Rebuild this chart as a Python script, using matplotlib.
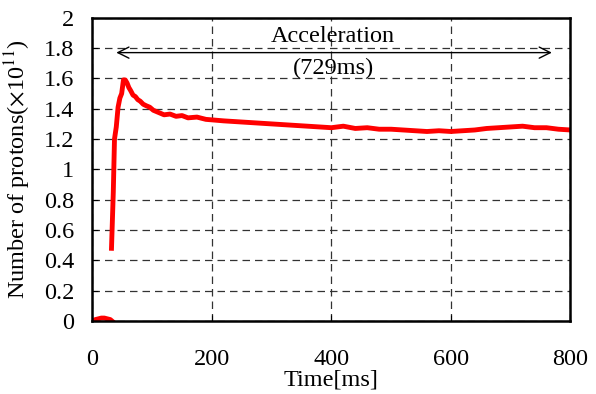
import matplotlib.pyplot as plt

plt.rcParams["font.family"] = ["Liberation Serif", "DejaVu Serif"]
plt.rcParams["mathtext.fontset"] = "stix"

# baseline before injection (ms, x1e11)
pre_t = [0, 5, 10, 15, 20, 25, 30, 33]
pre_n = [0.0, 0.01, 0.015, 0.02, 0.02, 0.015, 0.01, 0.0]

# beam intensity during acceleration
time_ms = [32, 35, 37, 40, 43, 46, 49, 52, 55, 58, 61, 64, 68, 72, 76, 80, 85, 90,
           96, 102, 108, 114, 120, 130, 140, 150, 160, 175, 190, 205, 220, 240,
           260, 280, 300, 320, 340, 360, 380, 400, 420, 440, 460, 480, 500, 520,
           540, 560, 580, 600, 620, 640, 660, 680, 700, 720, 740, 760, 780, 800]
protons = [0.48, 0.85, 1.2, 1.28, 1.41, 1.47, 1.5, 1.59, 1.59, 1.57, 1.54, 1.52, 1.49,
           1.48, 1.46, 1.45, 1.43, 1.42, 1.41, 1.39, 1.38, 1.37, 1.36, 1.365, 1.35,
           1.355, 1.34, 1.345, 1.33, 1.325, 1.32, 1.315, 1.31, 1.305, 1.30, 1.295, 1.29,
           1.285, 1.28, 1.275, 1.285, 1.27, 1.275, 1.265, 1.265, 1.26, 1.255, 1.25, 1.255,
           1.25, 1.255, 1.26, 1.27, 1.275, 1.28, 1.285, 1.275, 1.275, 1.265, 1.26]

accel_start, accel_end = 40, 769
accel_y = 1.77

fig, ax = plt.subplots(figsize=(5.96, 3.94), dpi=100)
fig.subplots_adjust(left=0.155, right=0.957, top=0.955, bottom=0.185)

ax.plot(pre_t, pre_n, color="red", lw=3.5, solid_joinstyle="round")
ax.plot(time_ms, protons, color="red", lw=3.5, solid_joinstyle="round")

ax.set_xlim(0, 800)
ax.set_ylim(0, 2)
ax.set_xticks([0, 200, 400, 600, 800])
ax.set_yticks([i / 5 for i in range(11)])
ax.set_yticklabels(["0", "0.2", "0.4", "0.6", "0.8", "1", "1.2", "1.4", "1.6", "1.8", "2"])
ax.grid(True, ls=(0, (6, 4)), color="#333333", lw=0.9)
ax.tick_params(axis="both", direction="in", length=4, labelsize=17.5)
ax.tick_params(axis="x", pad=20)
ax.tick_params(axis="y", pad=13)
for s in ax.spines.values():
    s.set_linewidth(1.8)

ax.set_xlabel("Time[ms]", fontsize=17.5)
ax.xaxis.set_label_coords(0.5, -0.16)
ax.set_ylabel(r"Number of protons($\times$10$^{11}$)", fontsize=17.5, labelpad=0)
ax.yaxis.set_label_coords(-0.125, 0.5)

ax.annotate("", xy=(accel_start, accel_y), xytext=(accel_end, accel_y),
            arrowprops=dict(arrowstyle="<->", color="black", lw=1.0,
                            mutation_scale=20, shrinkA=0, shrinkB=0))
ax.text(403, 1.875, "Acceleration", ha="center", va="center", fontsize=17.5)
ax.text(403, 1.665, "(729ms)", ha="center", va="center", fontsize=17.5)

fig.savefig("out.png", dpi=100)
